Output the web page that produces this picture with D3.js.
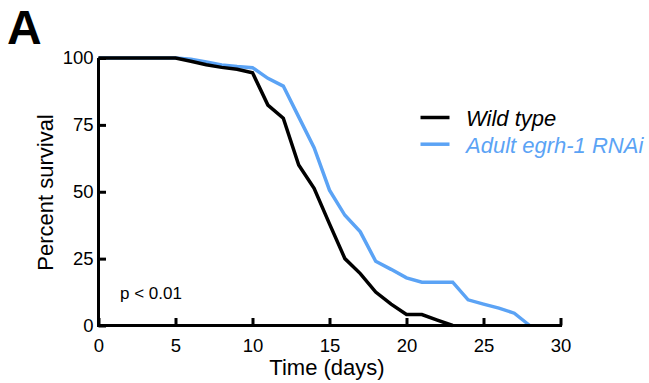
<!DOCTYPE html>
<html><head><meta charset="utf-8">
<script src="https://cdn.jsdelivr.net/npm/d3@7"></script>
<style>html,body{margin:0;padding:0;background:#fff;}svg{display:block;font-family:"Liberation Sans",Arial,sans-serif;}</style>
</head><body>
<script>
const days = [0,5,6,7,8,9,10,11,12,13,14,15,16,17,18,19,20,21,22,23,24,25,26,27,28];
const wildType = [100,100,98.8,97.5,96.5,95.8,94.5,82.4,77.5,60,51.3,38,25,19.4,12.5,8,4.1,4.1,2,0,null,null,null,null,null];
const rnai = [100,100,99.5,98.5,97.4,96.8,96.4,92.4,89.5,78,66.5,50.6,41.2,35,24,21,17.8,16.2,16.2,16.2,9.6,8,6.5,4.6,0];
const seriesNames = ["Wild type","Adult egrh-1 RNAi"];
const seriesColors = ["#000000","#5BA3F5"];
const xTicks = [0,5,10,15,20,25,30];
const yTicks = [0,25,50,75,100];

const W=649,H=383;
const svg=d3.select("body").append("svg").attr("width",W).attr("height",H);
const x=d3.scaleLinear().domain([0,30]).range([98.5,560.5]);
const y=d3.scaleLinear().domain([0,100]).range([325.5,58]);

const line=d3.line().x(d=>x(d[0])).y(d=>y(d[1]));
const series=[wildType,rnai];
[1,0].forEach(i=>{
  const pts=days.map((d,j)=>[d,series[i][j]]).filter(p=>p[1]!=null);
  svg.append("path").datum(pts).attr("d",line).attr("fill","none")
    .attr("stroke",seriesColors[i]).attr("stroke-width",3.5).attr("stroke-linejoin","miter");
});

const xAxis=svg.append("g").attr("transform","translate(0,325.5)")
  .call(d3.axisBottom(x).tickValues(xTicks).tickSizeInner(-7.5).tickSizeOuter(0).tickPadding(13.5));
const yAxis=svg.append("g").attr("transform","translate(98.5,0)")
  .call(d3.axisLeft(y).tickValues(yTicks).tickSizeInner(-7.5).tickSizeOuter(0).tickPadding(5));
[xAxis,yAxis].forEach(g=>{
  g.select(".domain").attr("stroke","#000").attr("stroke-width",3);
  g.selectAll(".tick line").attr("stroke","#000").attr("stroke-width",3);
  g.selectAll(".tick text").attr("font-size",18.5).attr("fill","#000").attr("font-family","Liberation Sans, Arial, sans-serif");
});
xAxis.select(".domain").attr("d","M97,0H562");
yAxis.select(".domain").attr("d","M0,327V58");

svg.append("text").attr("x",327).attr("y",375).attr("text-anchor","middle")
  .attr("font-size",22).text("Time (days)");
svg.append("text").attr("transform","translate(53,192.5) rotate(-90)").attr("text-anchor","middle")
  .attr("font-size",22).text("Percent survival");
svg.append("text").attr("x",7).attr("y",43.5).attr("font-size",48).attr("font-weight","bold").text("A");
svg.append("text").attr("x",120).attr("y",299).attr("font-size",17).text("p < 0.01");

seriesNames.forEach((n,i)=>{
  const yy=117.5+i*26.7;
  svg.append("line").attr("x1",420.5).attr("x2",449.5).attr("y1",yy).attr("y2",yy)
    .attr("stroke",seriesColors[i]).attr("stroke-width",3.5);
  svg.append("text").attr("x",466).attr("y",yy+8.5).attr("font-size",22).attr("font-style","italic")
    .attr("fill",seriesColors[i]).text(n);
});
</script>
</body></html>
